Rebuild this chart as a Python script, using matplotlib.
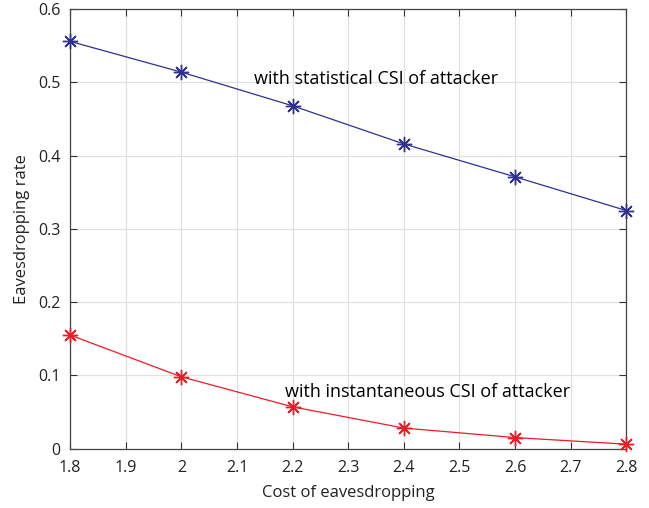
import numpy as np
import matplotlib
matplotlib.use('Agg')
import matplotlib.pyplot as plt

plt.rcParams['font.family'] = ['Open Sans', 'DejaVu Sans']

# data
cost = [1.8, 2.0, 2.2, 2.4, 2.6, 2.8]
rate_statistical = [0.556, 0.514, 0.468, 0.416, 0.371, 0.325]
rate_instant = [0.155, 0.098, 0.057, 0.028, 0.015, 0.006]

fig = plt.figure(figsize=(6.49, 5.08), dpi=100)
ax = fig.add_axes([0.108, 0.117, 0.857, 0.865])

star = (8, 2, 0)
ax.plot(cost, rate_statistical, color='#2e3192', marker=star, markersize=11,
        linewidth=0.9, markeredgewidth=1.0, clip_on=False, zorder=3)
ax.plot(cost, rate_instant, color='#ed1c24', marker=star, markersize=11,
        linewidth=0.9, markeredgewidth=1.0, clip_on=False, zorder=3)

ax.text(2.13, 0.505, 'with statistical CSI of attacker', fontsize=13,
        va='center', ha='left')
ax.text(2.186, 0.0775, 'with instantaneous CSI of attacker', fontsize=13,
        va='center', ha='left')

ax.set_xlim(1.8, 2.8)
ax.set_ylim(0, 0.6)
ax.set_xticks(np.arange(1.8, 2.81, 0.1))
ax.set_xticklabels(['1.8', '1.9', '2', '2.1', '2.2', '2.3', '2.4', '2.5', '2.6', '2.7', '2.8'])
ax.set_yticks([0, 0.1, 0.2, 0.3, 0.4, 0.5, 0.6])
ax.set_yticklabels(['0', '0.1', '0.2', '0.3', '0.4', '0.5', '0.6'])
ax.tick_params(direction='in', top=True, right=True, labelsize=11.5, length=5,
               color='#333333', labelcolor='#222222')
ax.tick_params(axis='x', pad=8)
ax.tick_params(axis='y', pad=7)
ax.grid(True, color='#e0e0e0', linewidth=0.9)
ax.set_axisbelow(True)
for s in ax.spines.values():
    s.set_color('#444444')
    s.set_linewidth(0.9)

ax.set_xlabel('Cost of eavesdropping', fontsize=12, color='#222222', labelpad=7)
ax.set_ylabel('Eavesdropping rate', fontsize=12, color='#222222', labelpad=6)

fig.savefig('out.png')
